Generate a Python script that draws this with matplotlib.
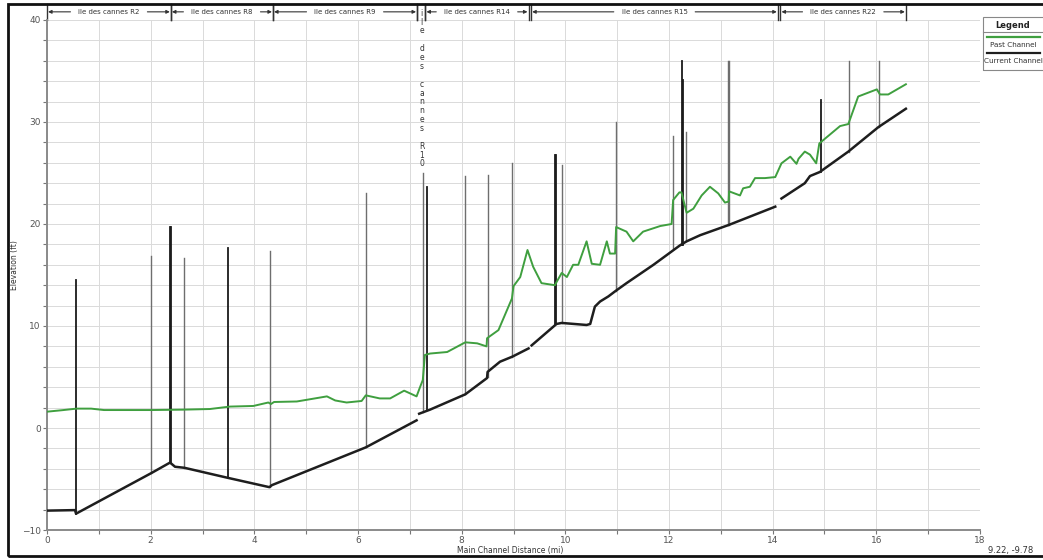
import numpy as np
import matplotlib
matplotlib.use("Agg")
import matplotlib.pyplot as plt
from matplotlib.ticker import MultipleLocator
from matplotlib.lines import Line2D
from matplotlib.patches import Rectangle

# Past channel (green) profile: distance (mi), elevation (ft)
past_x = [0.0, 0.3, 0.57, 0.85, 1.1, 1.7, 2.0, 2.63, 3.14, 3.53, 3.98, 4.27, 4.32, 4.38,
          4.82, 5.40, 5.56, 5.78, 6.07, 6.15, 6.42, 6.62, 6.89, 7.13, 7.20, 7.25, 7.29,
          7.39, 7.72, 8.07, 8.30, 8.48, 8.49, 8.71, 8.97, 9.0, 9.13, 9.27, 9.38, 9.54,
          9.80, 9.83, 9.93, 10.03, 10.15, 10.25, 10.41, 10.51, 10.67, 10.80, 10.86, 10.96,
          10.98, 11.18, 11.31, 11.50, 11.83, 12.05, 12.08, 12.2, 12.24, 12.34, 12.47,
          12.63, 12.79, 12.95, 13.08, 13.15, 13.16, 13.37, 13.43, 13.56, 13.66, 13.85,
          14.05, 14.17, 14.34, 14.46, 14.50, 14.62, 14.72, 14.84, 14.90, 15.30, 15.46,
          15.65, 16.01, 16.07, 16.23, 16.57]
past_y = [1.6, 1.75, 1.9, 1.9, 1.76, 1.76, 1.76, 1.8, 1.86, 2.1, 2.16, 2.5, 2.35, 2.55,
          2.6, 3.1, 2.7, 2.5, 2.65, 3.2, 2.9, 2.9, 3.66, 3.1, 4.05, 4.7, 7.16,
          7.3, 7.45, 8.4, 8.3, 8.0, 8.8, 9.6, 12.7, 13.9, 14.8, 17.45, 15.8, 14.2,
          14.0, 14.3, 15.2, 14.8, 16.0, 16.0, 18.3, 16.1, 16.0, 18.3, 17.1, 17.1,
          19.7, 19.25, 18.3, 19.25, 19.8, 20.0, 22.35, 23.1, 23.1, 21.1, 21.5,
          22.8, 23.65, 23.0, 22.1, 22.2, 23.2, 22.8, 23.5, 23.65, 24.5, 24.5,
          24.6, 25.95, 26.6, 25.9, 26.4, 27.1, 26.8, 25.95, 27.9, 29.6, 29.8,
          32.5, 33.2, 32.7, 32.7, 33.7]

# Current channel (black) profile, NaN = gap between reaches
curr_x = [0.0, 0.54, 0.56, 2.02, 2.37, 2.40, 2.47, 2.65, 3.50, 4.29, 4.34, 6.15, 7.13,
          np.nan, 7.18, 7.39, 8.07, 8.49, 8.50, 8.74, 8.98, 9.29,
          np.nan, 9.35, 9.83, 9.93, 10.41, 10.48, 10.57, 10.67, 10.83, 10.96, 11.18,
          11.70, 12.21, 12.34, 12.6, 13.15, 14.05,
          np.nan, 14.17, 14.62, 14.72, 14.91, 15.46, 16.04, 16.57]
curr_y = [-8.1, -8.05, -8.4, -4.4, -3.4, -3.5, -3.8, -3.9, -4.9, -5.8, -5.6, -1.9, 0.75,
          np.nan, 1.4, 1.8, 3.3, 4.9, 5.5, 6.5, 7.0, 7.8,
          np.nan, 8.1, 10.2, 10.3, 10.1, 10.2, 11.9, 12.4, 12.9, 13.4, 14.2,
          16.0, 17.9, 18.3, 18.9, 19.9, 21.7,
          np.nan, 22.5, 24.0, 24.7, 25.1, 27.1, 29.5, 31.3]

# structures drawn as vertical lines: x, bottom, top, dark?
spike_x = [0.55, 2.01, 2.37, 2.39, 2.65, 3.50, 4.30, 6.15, 7.25, 7.33, 8.07, 8.50, 8.98,
           9.80, 9.82, 9.93, 10.98, 12.07, 12.26, 12.27, 12.33, 13.14, 13.16, 14.93,
           15.47, 16.05]
spike_bot = [-8.4, -4.4, -3.4, -3.4, -3.9, -4.9, -5.8, -1.9, 1.6, 1.8, 3.3, 5.0, 7.0,
             10.2, 10.2, 10.3, 13.4, 17.6, 17.9, 17.9, 18.3, 19.9, 19.9, 25.1,
             27.1, 29.5]
spike_top = [14.5, 16.9, 19.7, 19.7, 16.7, 17.6, 17.4, 23.0, 25.0, 23.6, 24.7, 24.8, 26.0,
             26.8, 26.8, 25.8, 30.0, 28.6, 36.0, 34.1, 29.0, 36.0, 36.0, 32.2,
             36.0, 36.0]
spike_dark = [1, 0, 1, 1, 0, 1, 0, 0, 0, 1, 0, 0, 0,
              1, 1, 0, 0, 0, 1, 1, 0, 0, 0, 1,
              0, 0]

# reaches along the top
reach_names = ["ile des cannes R2", "ile des cannes R8", "ile des cannes R9",
               "ile des cannes R10", "ile des cannes R14", "ile des cannes R15",
               "ile des cannes R22"]
reach_start = [0.0, 2.39, 4.36, 7.14, 7.30, 9.34, 14.15]
reach_end = [2.39, 4.36, 7.14, 7.30, 9.29, 14.10, 16.57]

W, H = 1043, 560
fig = plt.figure(figsize=(W / 100, H / 100), dpi=100)
ax = fig.add_axes([47 / W, 1 - 530 / H, (980 - 47) / W, (530 - 20) / H])

tick_col = "#555555"
ax.set_xlim(0, 18)
ax.set_ylim(-10, 40)
ax.xaxis.set_major_locator(MultipleLocator(2))
ax.xaxis.set_minor_locator(MultipleLocator(1))
ax.yaxis.set_major_locator(MultipleLocator(10))
ax.yaxis.set_minor_locator(MultipleLocator(2))
ax.grid(True, which="both", color="#dadada", lw=0.7)
ax.set_axisbelow(True)
ax.tick_params(which="both", direction="out", length=3, width=0.8, color="#777777",
               labelsize=6.5, labelcolor=tick_col, pad=1.5)
for s in ["top", "right"]:
    ax.spines[s].set_visible(False)
for s in ["left", "bottom"]:
    ax.spines[s].set_color("#8a8a8a")
    ax.spines[s].set_linewidth(1.4)

# vertical structure lines
for x, b, t, d in zip(spike_x, spike_bot, spike_top, spike_dark):
    ax.plot([x, x], [b, t], color="#1a1a1a" if d else "#6e6e6e",
            lw=1.3 if d else 1.0, zorder=2)

ax.plot(past_x, past_y, color="#3f9f3f", lw=1.4, zorder=3)
ax.plot(curr_x, curr_y, color="#1e1e1e", lw=1.8, zorder=3)

fig.text(510 / W, 1 - 550 / H, "Main Channel Distance (mi)", fontsize=5.5,
         color="#333333", ha="center", va="center")
fig.text(14 / W, 1 - 265 / H, "Elevation (ft)", rotation=90, fontsize=5.5,
         color="#333333", ha="center", va="center")

# reach annotations above the plot
fig.canvas.draw()
renderer = fig.canvas.get_renderer()
y_txt = 40.8
for name, a, b in zip(reach_names, reach_start, reach_end):
    for xb in (a, b):
        ax.plot([xb, xb], [40.0, 41.6], color="#333333", lw=1.0, clip_on=False)
    mid = (a + b) / 2
    if b - a < 0.5:
        txt = "\n".join(list(name))
        ax.text(mid + 0.01, 41.1, txt, fontsize=5.5, ha="center", va="top",
                linespacing=0.98, color="#333333", clip_on=False)
        continue
    t = ax.text(mid, y_txt, name, fontsize=5.0, ha="center", va="center",
                color="#333333", clip_on=False)
    bb = t.get_window_extent(renderer).transformed(ax.transData.inverted())
    gap = 0.15
    for x0, x1 in ((bb.x0 - gap, a + 0.02), (bb.x1 + gap, b - 0.02)):
        ax.annotate("", xy=(x1, y_txt), xytext=(x0, y_txt), annotation_clip=False,
                    arrowprops=dict(arrowstyle="-|>", color="#333333", lw=0.8,
                                    mutation_scale=5, shrinkA=0, shrinkB=0))

# legend box drawn by hand
lx0, lx1, ly0, ly1 = 983, 1046, 17, 70
fig.patches.append(Rectangle((lx0 / W, 1 - ly1 / H), (lx1 - lx0) / W, (ly1 - ly0) / H,
                             transform=fig.transFigure, fill=False, ec="#888888", lw=0.8))
fig.lines.append(Line2D([lx0 / W, lx1 / W], [1 - 32 / H, 1 - 32 / H],
                        transform=fig.transFigure, color="#888888", lw=0.8))
fig.text(1013 / W, 1 - 25 / H, "Legend", fontsize=6, fontweight="bold",
         ha="center", va="center", color="#222222")
fig.lines.append(Line2D([987 / W, 1040 / W], [1 - 37 / H, 1 - 37 / H],
                        transform=fig.transFigure, color="#3f9f3f", lw=1.6))
fig.text(1013 / W, 1 - 45 / H, "Past Channel", fontsize=5.2, ha="center",
         va="center", color="#333333")
fig.lines.append(Line2D([987 / W, 1040 / W], [1 - 53 / H, 1 - 53 / H],
                        transform=fig.transFigure, color="#1e1e1e", lw=1.6))
fig.text(1013 / W, 1 - 61 / H, "Current Channel", fontsize=5.2, ha="center",
         va="center", color="#333333")

fig.text(988 / W, 1 - 551 / H, "9.22, -9.78", fontsize=6, ha="left", va="center",
         color="#333333")

# outer frame
fig.patches.append(Rectangle((8 / W, 4 / H), 1.2, 1 - 8 / H, transform=fig.transFigure,
                             fill=False, ec="#111111", lw=2.0))

fig.savefig("out.png", dpi=100)
